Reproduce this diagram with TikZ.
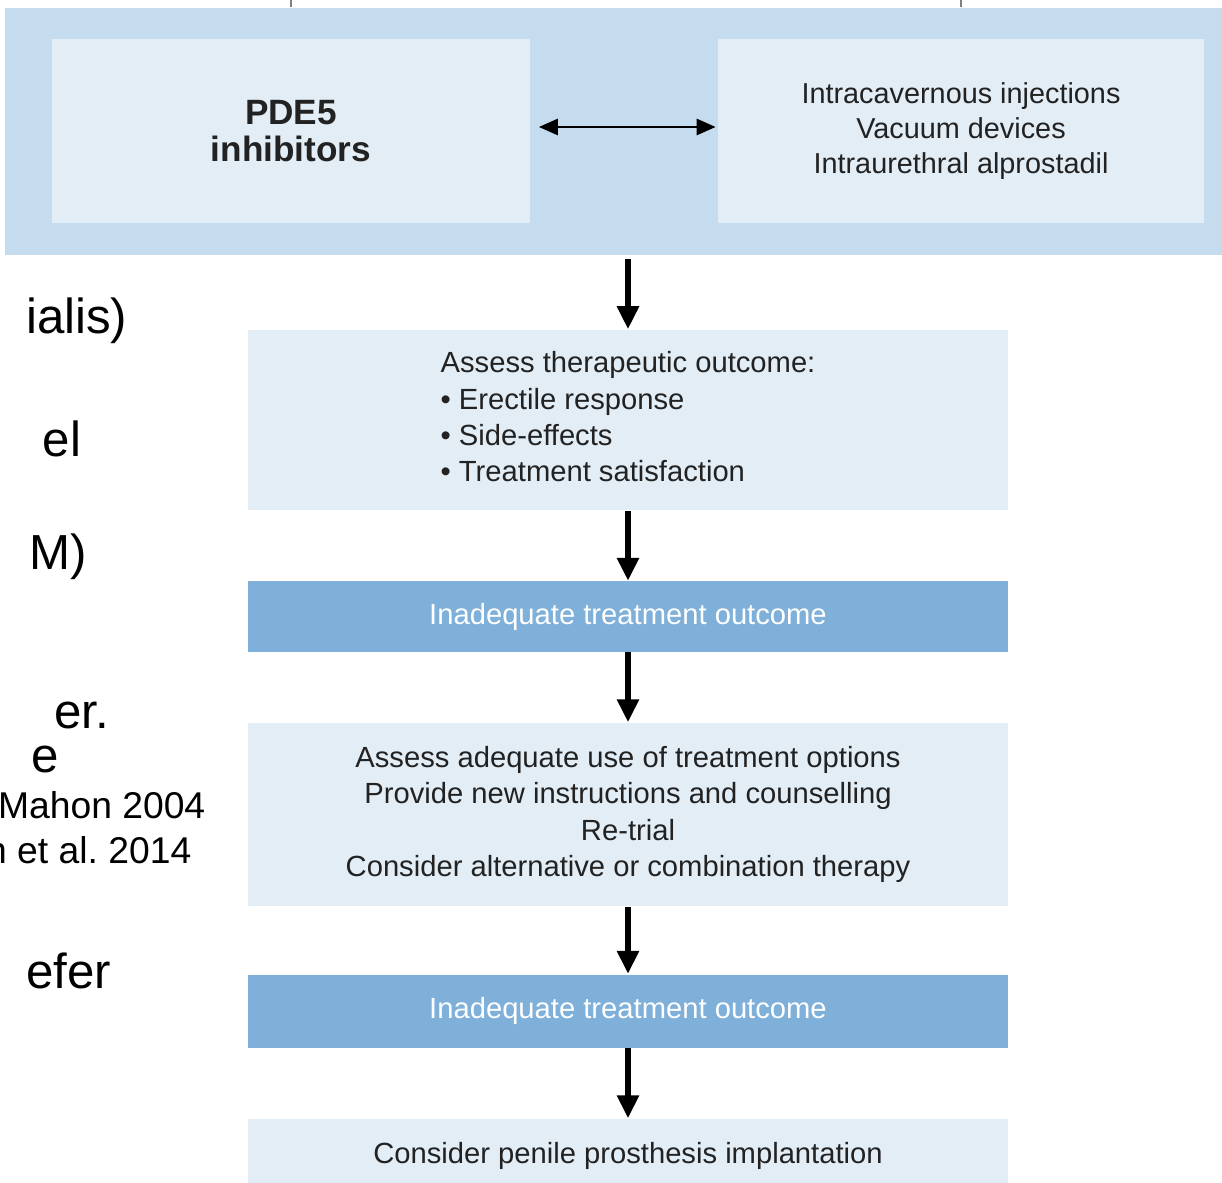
\documentclass[tikz,border=0pt]{standalone}
\usepackage{fontspec}
\setmainfont{Liberation Sans}
\usepackage{xcolor}
\usepackage{tikz}
\usetikzlibrary{arrows.meta,positioning}
\definecolor{GroupBlue}{HTML}{C4DCEE}
\definecolor{PaleBlue}{HTML}{E2EDF6}
\definecolor{DarkBlue}{HTML}{7EB0DA}
\definecolor{InkGrey}{HTML}{222222}

\begin{document}
\begin{tikzpicture}[
  x=0.01cm, y=-0.01cm,
  node distance=7mm,
  pale/.style={fill=PaleBlue, draw=none, align=center, text=InkGrey,
    minimum width=7.6cm, inner sep=0pt, font=\fontsize{8.3}{10.3}\selectfont},
  dark/.style={fill=DarkBlue, draw=none, align=center, text=white,
    minimum width=7.6cm, minimum height=7mm, inner sep=0pt,
    font=\fontsize{8.3}{10.3}\selectfont},
  inner/.style={fill=PaleBlue, draw=none, align=center, text=InkGrey,
    minimum height=1.84cm, inner sep=0pt},
  flowarrow/.style={-{Triangle[length=2.3mm,width=2.1mm]}, line width=1.7pt, black},
  twoway/.style={{Triangle[length=1.9mm,width=1.6mm]}-{Triangle[length=1.9mm,width=1.6mm]},
    line width=0.8pt, black},
  slide/.style={anchor=base east, inner sep=0pt, font=\fontsize{14}{16}\selectfont},
  slidesmall/.style={anchor=base east, inner sep=0pt, font=\fontsize{10.6}{12}\selectfont}
]
\useasboundingbox (0,0) rectangle (1222,1183);
\clip (0,0) rectangle (1222,1183);

% cut-off text of the slide behind
\node[slide] (t1) at (128,334) {ialis)};
\node[slide] (t2) at (82,457) {el};
\node[slide] (t3) at (88,570) {M)};
\node[slide] (t4) at (110,728) {er.};
\node[slide] (t5) at (60,772) {e};
\node[slidesmall] (t6) at (206,818) {Mahon 2004};
\node[slidesmall] (t7) at (192,863) {n et al.\ 2014};
\node[slide] (t8) at (112,988) {efer};

% treatment options
\node[fill=GroupBlue, minimum width=12.3cm, minimum height=2.47cm, inner sep=0pt]
  (group) at (620,131.5) {};
\node[inner, minimum width=4.78cm, font=\fontsize{10}{10.6}\bfseries\selectfont]
  (pde) at (291,131) {PDE5\\inhibitors};
\node[inner, minimum width=4.85cm, font=\fontsize{8.2}{9.9}\selectfont]
  (other) at (961,131) {Intracavernous injections\\Vacuum devices\\Intraurethral alprostadil};
\path (pde.east) ++(8,-4) coordinate (dl);
\path (other.west) ++(-2,-4) coordinate (dr);
\draw[twoway] (dl) -- (dr);
\coordinate (inl) at (pde.north |- 0,0);
\coordinate (inr) at (other.north |- 0,0);
\draw[gray, line width=0.6pt] (inl) -- (inl |- group.north);
\draw[gray, line width=0.6pt] (inr) -- (inr |- group.north);

% follow-up flow
\node[pale, minimum height=1.8cm] (assess) at (628,420)
  {\begin{tabular}{@{}l@{}}Assess therapeutic outcome:\\
   \textbullet\ Erectile response\\ \textbullet\ Side-effects\\ \textbullet\ Treatment satisfaction\end{tabular}};
\node[dark, below=of assess] (fail1) {Inadequate treatment outcome};
\node[pale, minimum height=1.83cm, below=of fail1] (review)
  {Assess adequate use of treatment options\\Provide new instructions and counselling\\
   Re-trial\\Consider alternative or combination therapy};
\node[dark, minimum height=7.3mm, below=6.7mm of review] (fail2) {Inadequate treatment outcome};
\node[pale, minimum height=7.4mm, below=of fail2] (implant) {Consider penile prosthesis implantation};

\path (group.south -| assess.north) ++(0,3) coordinate (a0);
\draw[flowarrow] (a0) -- (assess.north);
\draw[flowarrow] (assess) -- (fail1);
\draw[flowarrow] (fail1) -- (review);
\draw[flowarrow] (review) -- (fail2);
\draw[flowarrow] (fail2) -- (implant);
\end{tikzpicture}
\end{document}
